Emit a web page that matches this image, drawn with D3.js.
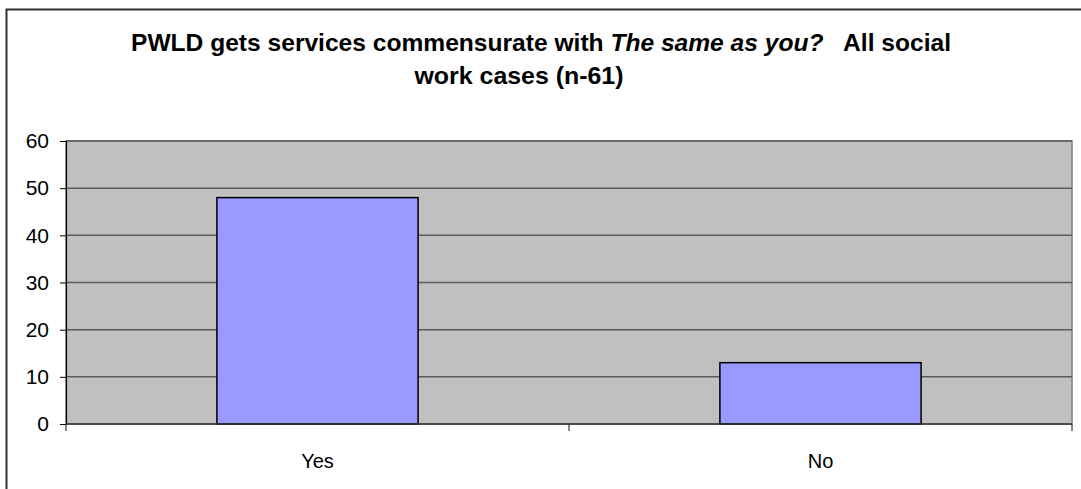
<!DOCTYPE html>
<html>
<head>
<meta charset="utf-8">
<script src="https://cdn.jsdelivr.net/npm/d3@7"></script>
<style>
  html, body { margin: 0; padding: 0; background: #fff; }
  svg { display: block; }
  text { font-family: "Liberation Sans", Arial, sans-serif; fill: #000; }
</style>
</head>
<body>
<svg id="chart" width="1081" height="489"></svg>
<script>
// Responses: does the person get services commensurate with "The same as you?"
const categories = ["Yes", "No"];
const counts = [48, 13];
const yTicks = [0, 10, 20, 30, 40, 50, 60];

const svg = d3.select("#chart");
const W = 1081, H = 489;
const plot = { left: 66, right: 1072, top: 141, bottom: 424 };

// outer chart frame
svg.append("rect")
  .attr("x", 6.5).attr("y", 9.5)
  .attr("width", W + 10).attr("height", H + 10)
  .attr("fill", "#fff")
  .attr("stroke", "#333").attr("stroke-width", 2);

// title (two lines, part of first line italic)
const title = svg.append("g").attr("font-weight", "bold").attr("font-size", 24);
const t1 = title.append("text")
  .attr("x", 541).attr("y", 51)
  .attr("text-anchor", "middle")
  .attr("textLength", 820).attr("lengthAdjust", "spacingAndGlyphs");
t1.append("tspan").text("PWLD gets services commensurate with ");
t1.append("tspan").attr("font-style", "italic").text("The same as you?");
t1.append("tspan").text("\u00a0\u00a0 All social");
title.append("text")
  .attr("x", 519).attr("y", 84)
  .attr("text-anchor", "middle")
  .attr("textLength", 209).attr("lengthAdjust", "spacingAndGlyphs")
  .text("work cases (n-61)");

const y = d3.scaleLinear().domain([0, 60]).range([plot.bottom, plot.top]);
const xBar = d3.scaleBand().domain(categories)
  .range([plot.left, plot.right]).paddingInner(0.6).paddingOuter(0.3);
const xCat = d3.scaleBand().domain(categories)
  .range([plot.left, plot.right]).padding(0);

// plot background
svg.append("rect")
  .attr("x", plot.left).attr("y", plot.top)
  .attr("width", plot.right - plot.left).attr("height", plot.bottom - plot.top)
  .attr("fill", "#c0c0c0")
  .attr("stroke", "#808080").attr("stroke-width", 1.5);

// horizontal gridlines
svg.append("g").selectAll("line")
  .data(yTicks.filter(d => d > 0))
  .join("line")
  .attr("x1", plot.left).attr("x2", plot.right)
  .attr("y1", d => y(d)).attr("y2", d => y(d))
  .attr("stroke", "#5a5a5a").attr("stroke-width", 1.5);

// bars
svg.append("g").selectAll("rect")
  .data(categories.map((c, i) => ({ c, v: counts[i] })))
  .join("rect")
  .attr("x", d => xBar(d.c))
  .attr("y", d => y(d.v))
  .attr("width", xBar.bandwidth())
  .attr("height", d => y(0) - y(d.v))
  .attr("fill", "#9999ff")
  .attr("stroke", "#000").attr("stroke-width", 1.5);

// y axis
const yAxis = d3.axisLeft(y).tickValues(yTicks).tickSize(6).tickPadding(11).tickFormat(d3.format("d"));
const gy = svg.append("g").attr("transform", `translate(${plot.left},0)`).call(yAxis);
gy.select(".domain").attr("stroke", "#000").attr("stroke-width", 1.2);
gy.selectAll(".tick line").attr("stroke", "#000");
gy.selectAll(".tick text").attr("font-size", 21).attr("font-family", "Liberation Sans, Arial, sans-serif");

// x axis: category labels centred, ticks at category boundaries
const boundaries = [plot.left].concat(categories.map(c => xCat(c) + xCat.bandwidth()));
const gx = svg.append("g");
gx.append("line")
  .attr("x1", plot.left).attr("x2", plot.right)
  .attr("y1", plot.bottom).attr("y2", plot.bottom)
  .attr("stroke", "#333").attr("stroke-width", 1.5);
gx.selectAll("line.tk").data(boundaries).join("line").attr("class", "tk")
  .attr("x1", d => d).attr("x2", d => d)
  .attr("y1", plot.bottom).attr("y2", plot.bottom + 7)
  .attr("stroke", "#333").attr("stroke-width", 1.2);
gx.selectAll("text").data(categories).join("text")
  .attr("x", d => xCat(d) + xCat.bandwidth() / 2)
  .attr("y", 468)
  .attr("text-anchor", "middle")
  .attr("font-size", 20)
  .text(d => d);
</script>
</body>
</html>
